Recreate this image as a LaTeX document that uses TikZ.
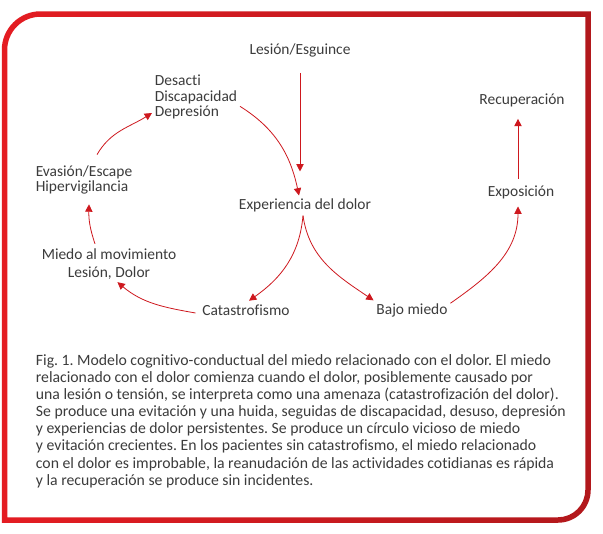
\documentclass[tikz,border=0pt]{standalone}
\usepackage{fontspec}
\setmainfont{Carlito}[Ligatures=NoCommon]
\usepackage{xcolor}
\usepackage{tikz}
\usetikzlibrary{positioning,calc,arrows.meta}
\frenchspacing

\definecolor{framered}{RGB}{228,28,34}
\definecolor{framedark}{RGB}{178,24,28}
\definecolor{arrowred}{RGB}{206,24,30}
\definecolor{txtgray}{RGB}{60,60,60}

\begin{document}
\begin{tikzpicture}[x=0.75pt,y=0.75pt,
    lbl/.style={text=txtgray,font=\fontsize{11.6}{11.6}\selectfont,inner sep=2pt},
    flow/.style={draw=arrowred,line width=0.6pt,-{Triangle[length=5.5pt,width=5.5pt]}},
  ]
    % Canvas
    \useasboundingbox (0,0) rectangle (603,-533);
    \fill[white] (0,0) rectangle (603,-533);

    % Frame
    \shade[left color=framered,right color=framedark,even odd rule]
      (1.75,-522.75) -- (1.75,-50) arc (180:90:38.75) -- (590.75,-11.25)
        -- (590.75,-490) arc (0:-90:32.75) -- cycle
      (7.25,-517.25) -- (7.25,-50) arc (180:90:33.25) -- (585.25,-16.75)
        -- (585.25,-490) arc (0:-90:27.25) -- cycle;

    % Cycle
    \node[lbl] (lesion) at (300,-50) {Lesión/Esguince};
    \node[lbl] (expe) at (305,-205) {Experiencia del dolor};
    \node[lbl] (cata) at (246,-310) {Catastrofismo};
    \node[lbl,align=center,font=\fontsize{11.6}{13.3}\selectfont] (miedo) at (109,-264) {Miedo al movimiento\\Lesión, Dolor};
    \node[lbl,align=left] (evasion) at (84,-180) {Evasión/Escape\\Hipervigilancia};
    \node[lbl,align=left] (desacti) at (196,-97) {Desacti\\Discapacidad\\Depresión};

    % Recovery
    \node[lbl] (bajo) at (412,-310) {Bajo miedo};
    \node[lbl] (expo) at (521,-192) {Exposición};
    \node[lbl] (recu) at (522,-100) {Recuperación};

    % Caption
    \node[lbl,anchor=west,align=left,font=\fontsize{11.8}{12.86}\selectfont] (caption) at (33,-421) {%
      Fig. 1. Modelo cognitivo-conductual del miedo relacionado con el dolor. El miedo\\
      relacionado con el dolor comienza cuando el dolor, posiblemente causado por\\
      una lesión o tensión, se interpreta como una amenaza (catastrofización del dolor).\\
      Se produce una evitación y una huida, seguidas de discapacidad, desuso, depresión\\
      y experiencias de dolor persistentes. Se produce un círculo vicioso de miedo\\
      y evitación crecientes. En los pacientes sin catastrofismo, el miedo relacionado\\
      con el dolor es improbable, la reanudación de las actividades cotidianas es rápida\\
      y la recuperación se produce sin incidentes.};

    % Arrows
    \draw[flow,shorten <=10pt,shorten >=18pt] (lesion.south) -- (lesion.south |- expe.north);
    \draw[flow] (desacti.-12) to[out=-32,in=102] ([xshift=-4.5pt]expe.north);
    \draw[flow] ($(evasion.north)+(13,8)$) to[out=60,in=-148] (desacti.200);
    \draw[flow] ($(miedo.north)+(-14,2)$) to[bend left=10] ($(evasion.south)+(5,-7)$);
    \draw[flow] ($(cata.west)+(-4,-3)$) to[out=170,in=-40] (miedo.-65);
    \draw[flow] ($(expe.south)+(-2,-1)$) to[out=-95,in=35] ($(cata.north)+(3,1)$);
    \draw[flow] ($(expe.south)+(-2,-1)$) to[out=-82,in=146] (bajo.north west);
    \draw[flow] (bajo.10) to[out=35,in=-90] ($(expo.south)+(-3,-5)$);
    \draw[flow,shorten <=3pt,shorten >=7pt] ($(expo.north)+(-3,0)$) -- ($(recu.south)+(-4,0)$);
\end{tikzpicture}
\end{document}
